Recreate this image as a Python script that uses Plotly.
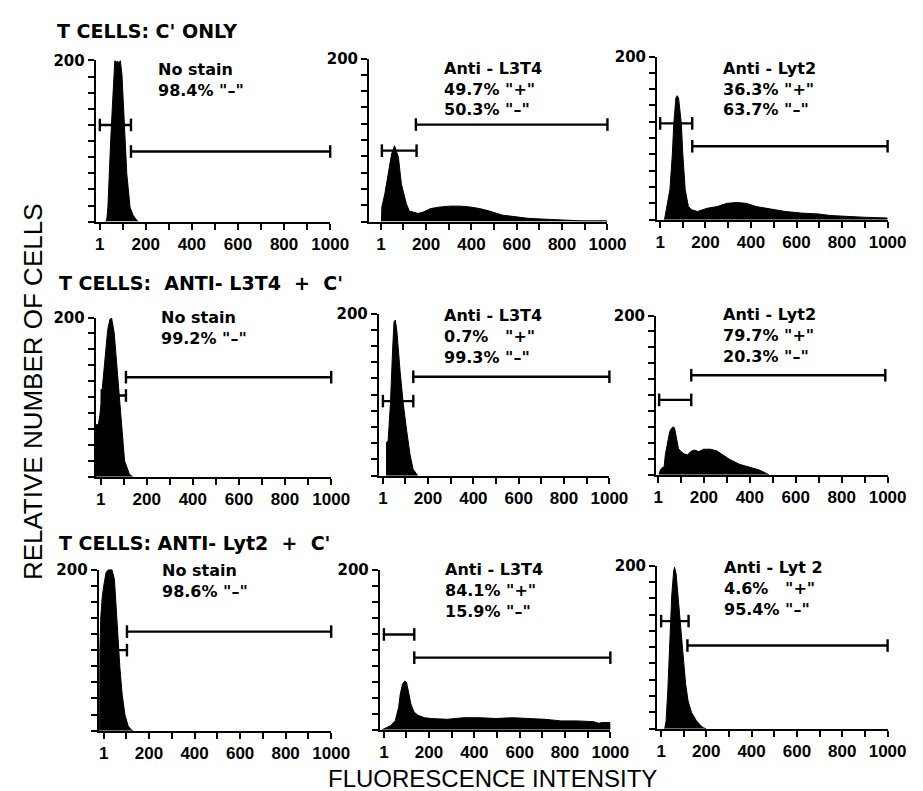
import plotly.graph_objects as go

# Measured page placement: the figure appears 8px lower than its own origin, no horizontal shift.
XOFF, YOFF = 0, 8
W, H = 923, 791 - YOFF

# ---------------- data ----------------
row_titles = ["T CELLS: C' ONLY", "T CELLS:  ANTI- L3T4  +  C'", "T CELLS: ANTI- Lyt2  +  C'"]

x_tickvals = [1, 100, 200, 300, 400, 500, 600, 700, 800, 900, 1000]
x_ticktext = ["1", "", "200", "", "400", "", "600", "", "800", "", "1000"]
y_tickvals = [0, 20, 40, 60, 80, 100, 120, 140, 160, 180, 200]
y_ticktext = ["", "", "", "", "", "", "", "", "", "", "200"]

# Row 1: C' only
r1_nostain_x = [25, 31, 36, 41, 48, 55, 62, 66, 72, 78, 84, 90, 97, 104, 114, 118, 132, 145, 160, 168]
r1_nostain_y = [0, 2, 18, 59, 100, 141, 182, 200, 198, 199, 197, 200, 182, 141, 100, 59, 18, 8, 2, 0]
r1_l3t4_x = [3, 5, 18, 35, 48, 61, 78, 91, 113, 126, 165, 190, 220, 263, 306, 350, 393, 436, 479, 535, 595, 651, 724, 793, 879, 995, 1000]
r1_l3t4_y = [0, 18, 34, 59, 83, 93, 79, 46, 22, 13, 10, 12, 16, 18, 19, 19, 18, 16, 13, 8, 6, 4, 3, 2, 1, 1, 0]
r1_lyt2_x = [20, 30, 44, 54, 61, 70, 76, 82, 94, 101, 111, 125, 140, 165, 208, 251, 294, 337, 380, 423, 480, 551, 623, 694, 751, 808, 894, 1000]
r1_lyt2_y = [0, 16, 37, 78, 118, 149, 152, 149, 118, 78, 37, 16, 12, 10, 14, 16, 20, 21, 20, 16, 13, 10, 8, 7, 5, 4, 3, 2]

# Row 2: anti-L3T4 + C'
r2_nostain_x = [-20, -20, -9, -2, 5, 19, 31, 41, 48, 59, 69, 79, 90, 104, 125, 139]
r2_nostain_y = [0, 65, 66, 80, 103, 152, 185, 198, 199, 181, 144, 103, 61, 20, 3, 0]
r2_l3t4_x = [17, 17, 24, 34, 44, 50, 56, 63, 77, 91, 106, 120, 134, 149, 155]
r2_l3t4_y = [0, 41, 43, 88, 157, 190, 192, 177, 128, 88, 55, 27, 8, 1, 0]
r2_lyt2_x = [5, 8, 15, 27, 32, 41, 51, 58, 65, 72, 79, 89, 100, 114, 129, 143, 157, 178, 199, 228, 256, 284, 313, 355, 398, 440, 469, 483]
r2_lyt2_y = [0, 4, 8, 10, 25, 37, 54, 58, 60, 59, 50, 33, 29, 26, 25, 29, 31, 29, 32, 32, 30, 25, 19, 13, 9, 6, 2, 0]

# Row 3: anti-Lyt2 + C'
r3_nostain_x = [-17, -16, -12, -6, 1, 11, 22, 37, 48, 54, 62, 72, 82, 94, 108, 122, 130]
r3_nostain_y = [0, 100, 140, 165, 180, 196, 200, 200, 188, 159, 118, 78, 45, 20, 6, 1, 0]
r3_l3t4_x = [-6, 8, 30, 51, 66, 73, 83, 94, 101, 109, 120, 134, 152, 180, 209, 281, 353, 424, 496, 568, 640, 712, 783, 855, 927, 948, 963, 991, 999, 1000]
r3_l3t4_y = [0, 2, 5, 11, 28, 44, 57, 61, 59, 48, 32, 22, 18, 15, 14, 13, 15, 15, 14, 15, 14, 13, 11, 11, 10, 8, 9, 9, 9, 0]
r3_lyt2_x = [17, 23, 31, 40, 48, 56, 60, 67, 77, 89, 99, 109, 120, 135, 156, 175, 189, 199]
r3_lyt2_y = [0, 10, 50, 107, 164, 192, 198, 190, 156, 115, 83, 55, 34, 20, 10, 4, 1, 0]

# gates: [start, end, display level]
neg_gates = [[1, 136, 120], [5, 158, 87], [1, 142, 118],
             [5, 110, 102], [1, 135, 92], [5, 145, 94],
             [1, 103, 100], [1, 135, 119], [1, 122, 132]]
pos_gates = [[136, 1000, 87], [155, 1000, 119], [142, 1000, 90],
             [110, 1000, 125], [135, 1000, 122], [145, 990, 125],
             [103, 1000, 123], [135, 1000, 90], [117, 1000, 102]]

panel_labels = [
    ["No stain", '98.4% "–"'],
    ["Anti - L3T4", '49.7% "+"', '50.3% "–"'],
    ["Anti - Lyt2", '36.3% "+"', '63.7% "–"'],
    ["No stain", '99.2% "–"'],
    ["Anti - L3T4", '0.7%   "+"', '99.3% "–"'],
    ["Anti - Lyt2", '79.7% "+"', '20.3% "–"'],
    ["No stain", '98.6% "–"'],
    ["Anti - L3T4", '84.1% "+"', '15.9% "–"'],
    ["Anti - Lyt 2", '4.6%   "+"', '95.4% "–"'],
]

hist_x = [r1_nostain_x, r1_l3t4_x, r1_lyt2_x, r2_nostain_x, r2_l3t4_x, r2_lyt2_x, r3_nostain_x, r3_l3t4_x, r3_lyt2_x]
hist_y = [r1_nostain_y, r1_l3t4_y, r1_lyt2_y, r2_nostain_y, r2_l3t4_y, r2_lyt2_y, r3_nostain_y, r3_l3t4_y, r3_lyt2_y]

# ---------------- layout geometry (window pixels) ----------------
# (y-axis x, x of tick "1", x of tick "1000", top, bottom)
geom = [
    (87, 91, 327, 52, 215), (367, 379, 611, 50, 215), (662, 665, 898, 48, 213),
    (87, 92, 328, 312, 473), (377, 381, 613, 308, 472), (661, 663, 898, 310, 471),
    (90, 95, 328, 567, 730), (378, 382, 614, 567, 729), (662, 666, 898, 563, 728),
]
label_pos = [
    (149, 61), (442, 60), (727, 60),
    (152, 312), (442, 310), (727, 309),
    (153, 568), (443, 567), (728, 565),
]
title_pos = [(45, 22), (47, 277), (47, 540)]


def fx(px):
    return (px - XOFF) / W


def fy(py):
    return 1 - (py - YOFF) / H


LAB = "DejaVu Sans"
TICK = "Liberation Sans Narrow, Liberation Sans"
fig = go.Figure()
layout = dict(width=W, height=H, margin=dict(l=0, r=0, t=0, b=0), autosize=False,
              paper_bgcolor="white", plot_bgcolor="white", showlegend=False)
annotations = []

for i in range(9):
    k = i + 1
    xa = "x" if k == 1 else f"x{k}"
    ya = "y" if k == 1 else f"y{k}"
    fig.add_trace(go.Scatter(x=hist_x[i], y=hist_y[i], xaxis=xa, yaxis=ya, mode="lines",
                             fill="tozeroy", fillcolor="black",
                             line=dict(color="black", width=1), hoverinfo="skip"))
    for g in (neg_gates[i], pos_gates[i]):
        fig.add_trace(go.Scatter(x=[g[0], g[1]], y=[g[2], g[2]], xaxis=xa, yaxis=ya,
                                 mode="lines+markers", cliponaxis=False,
                                 line=dict(color="black", width=2.4),
                                 marker=dict(symbol="line-ns", size=9, color="black",
                                             line=dict(color="black", width=2.4)),
                                 hoverinfo="skip"))
    yax, x1p, x1000p, top, bot = geom[i]
    ppu = (x1000p - x1p) / 999.0
    xmin = 1 - (x1p - yax) / ppu
    layout["xaxis" if k == 1 else f"xaxis{k}"] = dict(
        domain=[fx(yax), fx(x1000p)], range=[xmin, 1000], anchor=ya,
        tickvals=x_tickvals, ticktext=x_ticktext, ticks="outside", ticklen=6, tickwidth=2.2,
        tickcolor="black", showline=True, linewidth=2.4, linecolor="black",
        showgrid=False, zeroline=False, fixedrange=True,
        tickfont=dict(family=TICK, size=17, color="black", weight="bold"))
    layout["yaxis" if k == 1 else f"yaxis{k}"] = dict(
        domain=[fy(bot), fy(top)], range=[0, 200], anchor=xa,
        tickvals=y_tickvals, ticktext=y_ticktext, ticks="outside", ticklen=6, tickwidth=2.2,
        tickcolor="black", showline=True, linewidth=2.4, linecolor="black",
        showgrid=False, zeroline=False, fixedrange=True,
        tickfont=dict(family=LAB, size=15, color="black", weight="bold"))
    lx, ly = label_pos[i]
    for j, line in enumerate(panel_labels[i]):
        annotations.append(dict(text=line, xref="paper", yref="paper",
                                x=fx(lx), y=fy(ly + 21 * j),
                                xanchor="left", yanchor="middle", showarrow=False,
                                font=dict(family=LAB, size=16, color="black", weight="bold")))

for t, (tx, ty) in zip(row_titles, title_pos):
    annotations.append(dict(text=t, xref="paper", yref="paper", x=fx(tx), y=fy(ty),
                            xanchor="left", yanchor="middle", showarrow=False,
                            font=dict(family=LAB, size=19, color="black", weight="bold")))

annotations.append(dict(text="RELATIVE NUMBER OF CELLS", xref="paper", yref="paper",
                        x=fx(22), y=fy(387), xanchor="center", yanchor="middle",
                        textangle=-90, showarrow=False,
                        font=dict(family="Liberation Sans", size=26, color="black")))
annotations.append(dict(text="FLUORESCENCE INTENSITY", xref="paper", yref="paper",
                        x=fx(493), y=fy(778), xanchor="center", yanchor="middle",
                        showarrow=False, font=dict(family="Liberation Sans", size=24, color="black")))

layout["annotations"] = annotations
fig.update_layout(**layout)
fig.write_html("out.html", config={"responsive": False, "displayModeBar": False})
